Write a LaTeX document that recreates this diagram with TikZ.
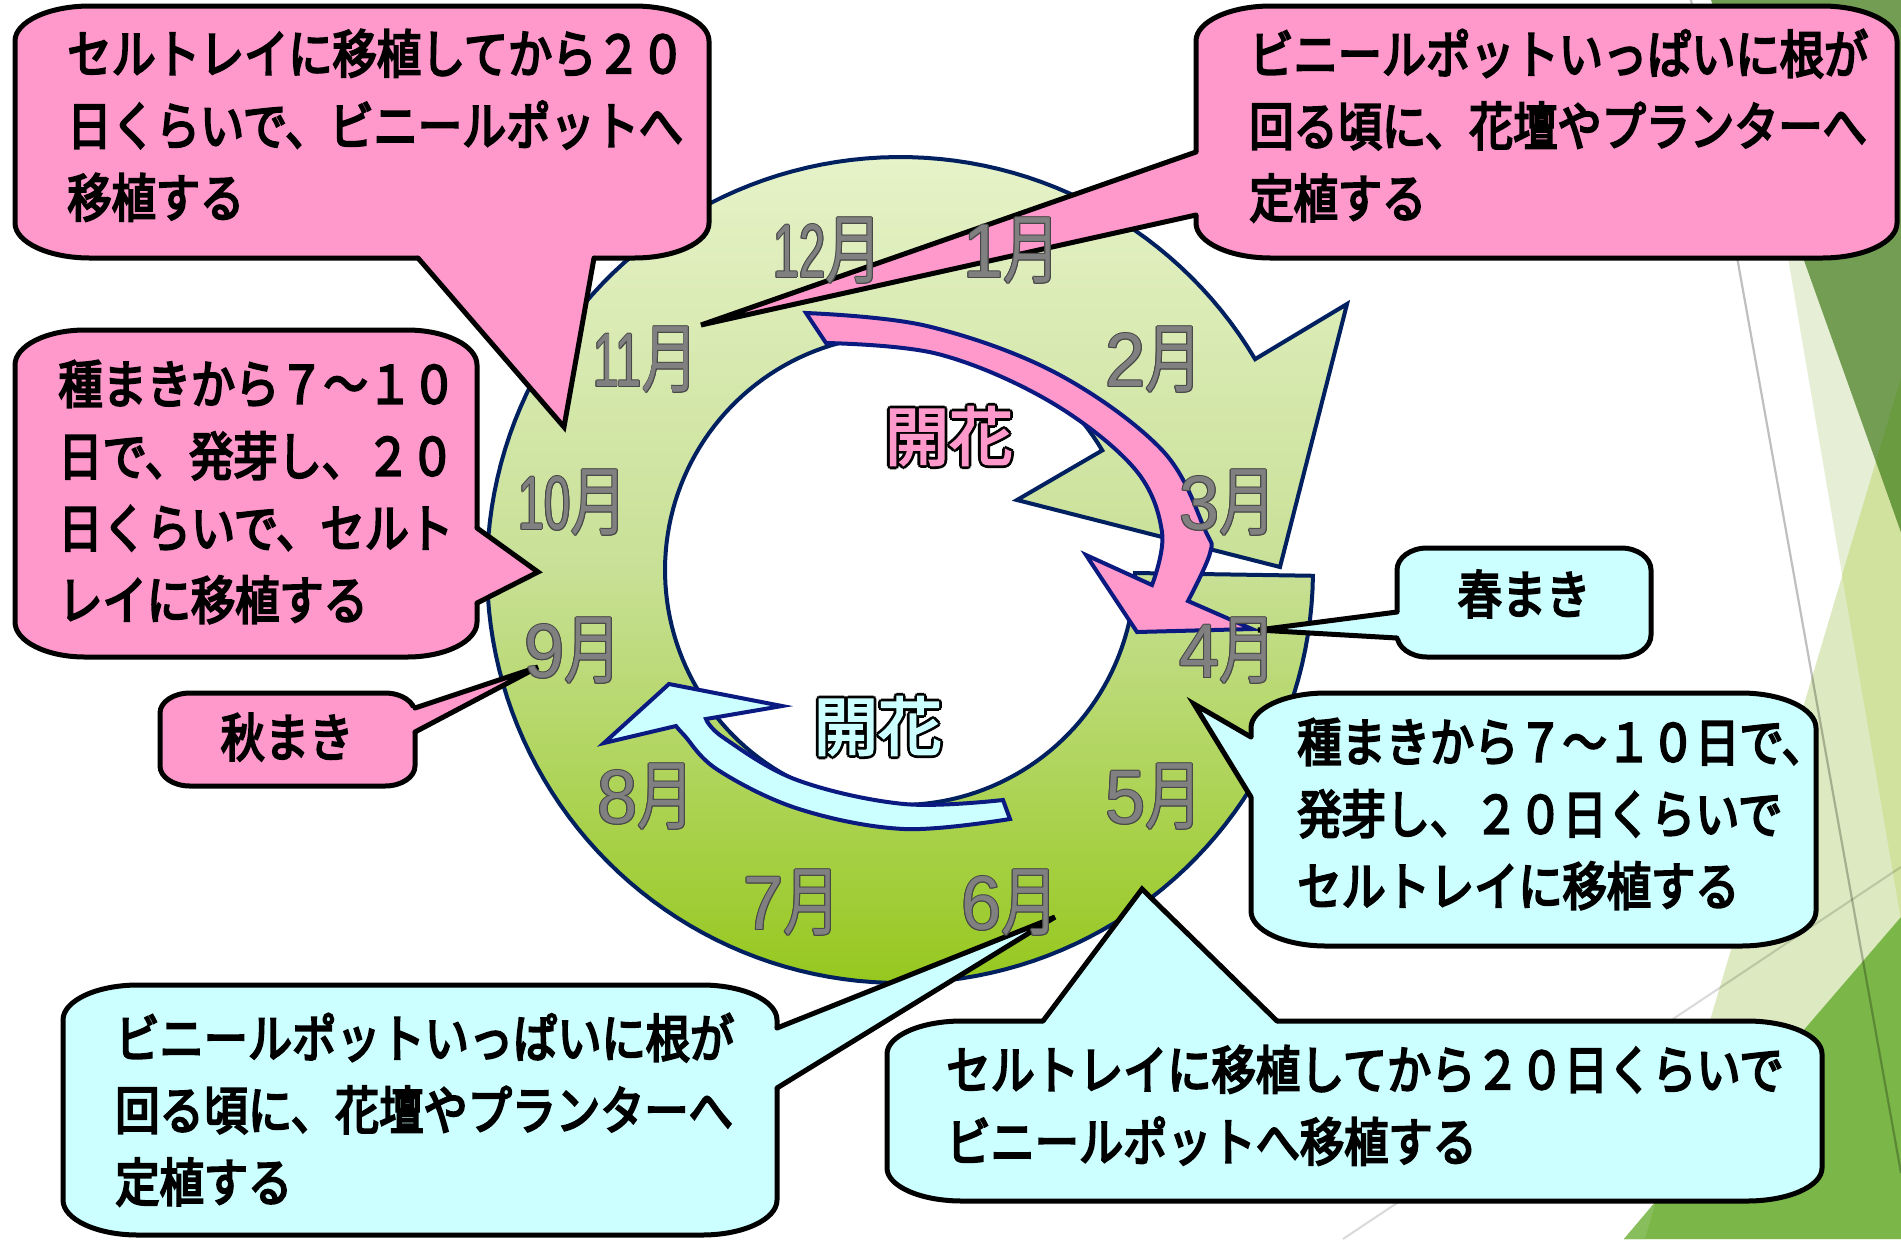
\documentclass[tikz,border=0pt]{standalone}
\usepackage{fontspec}
\newfontfamily\jpb{Noto Sans CJK JP}[FakeBold=4,FakeStretch=0.85]
\newfontfamily\jpk{Noto Sans CJK JP}[FakeBold=3]
\newfontfamily\mjp{Noto Sans CJK JP}[FakeStretch=0.75]
\newfontfamily\mdig{Liberation Sans}[FakeStretch=0.95]
\newfontfamily\mdigc{Liberation Sans}[FakeStretch=0.62]
\definecolor{pinkf}{HTML}{FF99CC}
\definecolor{cyanf}{HTML}{CCFFFF}
\definecolor{ringline}{HTML}{002060}
\definecolor{arrowline}{HTML}{0A1A80}
\definecolor{ringtop}{HTML}{E6F2C8}
\definecolor{ringmid}{HTML}{C8E096}
\definecolor{ringbot}{HTML}{96C81E}
\definecolor{mfill}{HTML}{808080}
\definecolor{mline}{HTML}{484848}
\definecolor{bgpale}{HTML}{E6EFD6}
\definecolor{bgyg}{HTML}{DDE9C0}
\definecolor{bgygtwo}{HTML}{D1E29F}
\definecolor{bgdark}{HTML}{739D52}
\definecolor{bgdarktwo}{HTML}{6B9B40}
\definecolor{bggreen}{HTML}{7AB648}
\definecolor{bggreentwo}{HTML}{88BE5C}
\newlength\olw
\newbox\oltbox
% outlined text: #1 width, #2 outline colour, #3 fill colour, #4 text
\newcommand\olt[4]{%
  \setlength\olw{#1}%
  \setbox\oltbox=\hbox{#4}%
  {\color{#2}%
   \rlap{\kern\olw\copy\oltbox}%
   \rlap{\kern-\olw\copy\oltbox}%
   \rlap{\raise\olw\copy\oltbox}%
   \rlap{\lower\olw\copy\oltbox}%
   \rlap{\kern.7\olw\raise.7\olw\copy\oltbox}%
   \rlap{\kern.7\olw\lower.7\olw\copy\oltbox}%
   \rlap{\kern-.7\olw\raise.7\olw\copy\oltbox}%
   \rlap{\kern-.7\olw\lower.7\olw\copy\oltbox}}%
  {\color{#3}\copy\oltbox}}
\newcommand\mon[1]{\olt{0.45pt}{mline}{mfill}{#1}}
% callout box with elliptic corners: [opts]{x1}{y1}{x2}{y2}{rx}{ry}
\newcommand\cbox[7][]{%
  \path[#1] ({#2+#6},#3) -- ({#4-#6},#3)
   .. controls ({#4-0.448*#6},#3) and (#4,{#3+0.448*#7}) .. (#4,{#3+#7})
   -- (#4,{#5-#7})
   .. controls (#4,{#5-0.448*#7}) and ({#4-0.448*#6},#5) .. ({#4-#6},#5)
   -- ({#2+#6},#5)
   .. controls ({#2+0.448*#6},#5) and (#2,{#5-0.448*#7}) .. (#2,{#5-#7})
   -- (#2,{#3+#7})
   .. controls (#2,{#3+0.448*#7}) and ({#2+0.448*#6},#3) .. ({#2+#6},#3) -- cycle;}
% pointer wedge: {fill}{b1}{tip}{b2}{b2 inside}{b1 inside}
\newcommand\cwedge[6]{%
  \fill[#1] #6 -- #2 -- #3 -- #4 -- #5 -- cycle;
  \draw[cline] #2 -- #3 -- #4;}
\begin{document}
\begin{tikzpicture}[x=0.5pt,y=-0.5pt,
  pinkc/.style={fill=pinkf, draw=black, line width=2.5pt},
  cyanc/.style={fill=cyanf, draw=black, line width=2.5pt},
  cline/.style={draw=black, line width=2.5pt, line cap=round},
  ctext/.style={inner sep=0pt, anchor=north west, align=left, font={\jpb\fontsize{26}{36}\selectfont}},
  stext/.style={inner sep=0pt, font={\jpb\fontsize{26}{36}\selectfont}},
  month/.style={inner sep=0pt, font={\fontsize{38}{38}\selectfont}},
  olbl/.style={inner sep=0pt, font={\jpk\fontsize{32}{32}\selectfont}},
  arrowbody/.style={draw=arrowline, line width=2pt, line join=miter}]
\useasboundingbox (0,0) rectangle (1901,1239);
\fill[white] (0,0) rectangle (1901,1239);
% ---- background facets ----
\begin{scope}
\clip (0,0) rectangle (1901,1239);
\fill[bgpale] (1744,0) -- (1901,0) -- (1901,920) -- cycle;
\fill[bgyg] (1901,378) -- (1645,1239) -- (1901,1239) -- cycle;
\fill[bgygtwo] (1901,378) -- (1842,575) -- (1901,920) -- cycle;
\fill[bgdark] (1711,0) -- (1901,0) -- (1901,532) -- cycle;
\fill[bgdarktwo] (1901,378) -- (1876,461) -- (1901,532) -- cycle;
\fill[bggreen] (1901,917) -- (1624,1239) -- (1901,1239) -- cycle;
\fill[bggreentwo] (1624,1239) -- (1645,1239) -- (1656,1201) -- cycle;
\draw[black, draw opacity=0.25, line width=1.1pt] (1691,0) -- (1901,1173);
\draw[black, draw opacity=0.15, line width=1pt] (1343,1239) -- (1901,867);
\end{scope}
% ---- ring arrow ----
\path[draw=ringline, line width=2pt, line join=miter, top color=ringtop, bottom color=ringbot, middle color=ringmid]
  (1135,573) -- plot[domain=-0.8:-329.3, samples=160] ({900+413*cos(\x)},{570-413*sin(\x)})
  -- (1347,304) -- (1280,567) -- (1017,500)
  -- plot[domain=30.6:359.2, samples=160] ({900+235*cos(\x)},{570-235*sin(\x)}) -- cycle;
% ---- pink inner arrow ----
\path[arrowbody, fill=pinkf]
  (826,343) -- plot[smooth, tension=0.6] coordinates {(806,313) (927,326) (1056,373) (1162,450) (1205,530) (1210,553) (1188,601)}
  -- (1252,629) -- (1137,632) -- (1086,555)
  -- plot[smooth, tension=0.6] coordinates {(1152,585) (1162,532) (1134,468) (1049,401) (938,354) (826,343)} -- cycle;
% ---- cyan inner arrow ----
\path[arrowbody, fill=cyanf]
  (1003,800) -- plot[smooth, tension=0.6] coordinates {(1010,819) (904,829) (799,809) (718,770) (684,735) (676,726)}
  -- (604,743) -- (669,684) -- (782,706)
  -- plot[smooth, tension=0.6] coordinates {(706,719) (724,738) (797,780) (904,804) (1003,800)} -- cycle;
% ---- flowering labels ----
\node[olbl] (kaka1) at (949,436) {\olt{1.4pt}{black}{pinkf}{開花}};
\node[olbl] (kaka2) at (878,726) {\olt{1.4pt}{black}{cyanf}{開花}};
% ---- callouts ----
% top left
\cbox[pinkc]{15}{6}{709}{258}{75}{35}
\coordinate (tltip) at (564,427);
\cwedge{pinkf}{(418,258)}{(tltip)}{(594,258)}{(594,250)}{(418,250)}
\node[ctext] (tlt) at (67,29) {セルトレイに移植してから２０\\日くらいで、ビニールポットへ\\移植する};
% top right
\cbox[pinkc]{1196}{6}{1897}{258}{75}{35}
\coordinate (trtip) at (701,325);
\cwedge{pinkf}{(1196,152)}{(trtip)}{(1196,215)}{(1204,215)}{(1204,152)}
\node[ctext] (trt) at (1249,29) {ビニールポットいっぱいに根が\\回る頃に、花壇やプランターへ\\定植する};
% left middle
\cbox[pinkc]{15}{330}{477}{657}{70}{35}
\coordinate (lmtip) at (538,572);
\cwedge{pinkf}{(477,528)}{(lmtip)}{(477,603)}{(469,603)}{(469,528)}
\node[ctext] (lmt) at (58,360) {種まきから７～１０\\日で、発芽し、２０\\日くらいで、セルト\\レイに移植する};
% autumn sowing
\cbox[pinkc]{160}{693}{415}{786}{30}{20}
\coordinate (aktip) at (538,667);
\cwedge{pinkf}{(415,708)}{(aktip)}{(415,732)}{(407,732)}{(407,708)}
\node[stext] (akt) at (287,737) {秋まき};
% spring sowing
\cbox[cyanc]{1397}{548}{1651}{657}{30}{22}
\coordinate (hrtip) at (1258,630);
\cwedge{cyanf}{(1397,612)}{(hrtip)}{(1397,638)}{(1405,638)}{(1405,612)}
\node[stext] (hrt) at (1524,594) {春まき};
% right cyan
\cbox[cyanc]{1251}{693}{1816}{946}{75}{35}
\coordinate (rctip) at (1194,704);
\cwedge{cyanf}{(1251,737)}{(rctip)}{(1251,797)}{(1259,797)}{(1259,737)}
\node[ctext] (rct) at (1297,718) {種まきから７～１０日で、\\発芽し、２０日くらいで\\セルトレイに移植する};
% bottom left
\cbox[cyanc]{63}{985}{777}{1235}{75}{35}
\coordinate (bltip) at (1055,917);
\cwedge{cyanf}{(777,1028)}{(bltip)}{(777,1088)}{(769,1088)}{(769,1028)}
\node[ctext] (blt) at (115,1013) {ビニールポットいっぱいに根が\\回る頃に、花壇やプランターへ\\定植する};
% bottom right
\cbox[cyanc]{887}{1021}{1822}{1201}{75}{33}
\coordinate (brtip) at (1142,889);
\cwedge{cyanf}{(1043,1021)}{(brtip)}{(1277,1021)}{(1277,1029)}{(1043,1029)}
\node[ctext] (brt) at (946,1045) {セルトレイに移植してから２０日くらいで\\ビニールポットへ移植する};
% ---- months ----
\node[month] (m12) at (828,251) {\mon{\mdigc 12\mjp 月}};
\node[month] (m1) at (1012,251) {\mon{\mdig 1\mjp 月}};
\node[month] (m2) at (1154,360) {\mon{\mdig 2\mjp 月}};
\node[month] (m3) at (1228,503) {\mon{\mdig 3\mjp 月}};
\node[month] (m4) at (1228,651) {\mon{\mdig 4\mjp 月}};
\node[month] (m5) at (1154,797) {\mon{\mdig 5\mjp 月}};
\node[month] (m6) at (1010,903) {\mon{\mdig 6\mjp 月}};
\node[month] (m7) at (792,903) {\mon{\mdig 7\mjp 月}};
\node[month] (m8) at (646,797) {\mon{\mdig 8\mjp 月}};
\node[month] (m9) at (573,651) {\mon{\mdig 9\mjp 月}};
\node[month] (m10) at (573,503) {\mon{\mdigc 10\mjp 月}};
\node[month] (m11) at (646,360) {\mon{\mdigc 11\mjp 月}};
\end{tikzpicture}
\end{document}
